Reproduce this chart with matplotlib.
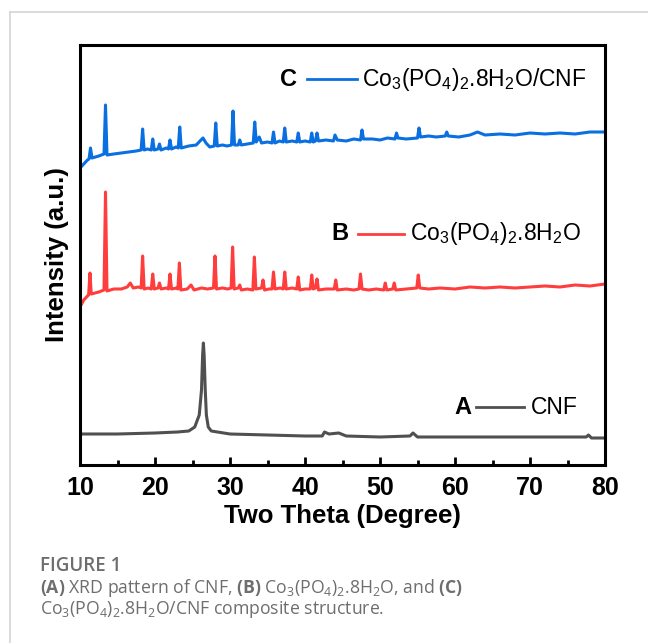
# encoding: utf-8
"""
XRD patterns of CNF, Co3(PO4)2.8H2O and the Co3(PO4)2.8H2O/CNF composite.
"""

import matplotlib
matplotlib.use('Agg')
import matplotlib.pyplot as plt
from matplotlib.lines import Line2D

plt.rcParams['font.family'] = ['Liberation Sans', 'DejaVu Sans']
plt.rcParams['mathtext.fontset'] = 'custom'
plt.rcParams['mathtext.default'] = 'regular'
plt.rcParams['mathtext.bf'] = 'Open Sans:bold'

# (A) CNF, two theta (deg) and intensity (a.u.)
cnf_theta = [10.0, 15.0, 20.0, 23.0, 24.5, 25.3, 25.9, 26.2, 26.35, 26.45, 26.55, 26.7,
             26.85, 27.1, 27.5, 30.0, 35.0, 40.0, 42.3, 42.6, 43.2, 44.5, 45.5, 50.0,
             54.0, 54.4, 55.0, 60.0, 70.0, 77.5, 77.8, 78.2, 80.0]
cnf_int = [31, 31, 32, 33, 34, 38, 50, 75, 110, 122, 110, 75,
           50, 38, 34, 31, 30, 29, 29, 33, 31, 32, 29, 28,
           29, 32, 28, 28, 28, 28, 30, 27, 27]

# (B) Co3(PO4)2.8H2O
cop_theta = [10.0, 10.5, 11.0, 11.15, 11.33, 11.5, 12.5, 13.2, 13.4, 13.6, 14.5, 15.5,
             16.3, 16.7, 17.1, 17.8, 18.15, 18.35, 18.55, 19.1, 19.5, 19.7, 19.9, 20.4,
             20.6, 20.8, 21.5, 21.8, 22.0, 22.2, 22.9, 23.05, 23.25, 23.45, 24.3, 24.8,
             25.2, 26.2, 27.0, 27.8, 28.0, 28.2, 29.0, 29.7, 30.15, 30.35, 30.55, 31.1,
             31.3, 31.5, 32.3, 33.05, 33.25, 33.45, 34.2, 34.4, 34.6, 35.2, 35.6, 35.8,
             36.0, 36.7, 37.1, 37.3, 37.5, 38.3, 38.9, 39.1, 39.3, 40.0, 40.7, 40.9,
             41.1, 41.4, 41.6, 41.8, 42.8, 43.9, 44.1, 44.3, 45.5, 46.5, 47.2, 47.4,
             47.6, 48.5, 49.5, 50.5, 50.7, 50.9, 51.7, 51.9, 52.1, 53.5, 54.9, 55.1,
             55.3, 56.5, 58.0, 60.0, 62.0, 64.0, 66.0, 68.0, 70.0, 72.0, 74.0, 76.0,
             78.0, 80.0]
cop_int = [158, 165, 169, 170, 192, 171, 173, 175, 273, 174, 176, 176,
           178, 182, 177, 178, 177, 209, 176, 177, 176, 191, 176, 177,
           182, 176, 177, 176, 191, 176, 177, 176, 202, 175, 176, 180,
           175, 177, 176, 177, 209, 176, 177, 176, 177, 218, 176, 177,
           180, 175, 176, 175, 208, 176, 177, 185, 175, 176, 176, 193,
           176, 177, 176, 193, 176, 177, 176, 188, 175, 176, 176, 190,
           176, 177, 186, 175, 176, 176, 185, 175, 176, 175, 176, 191,
           176, 175, 176, 175, 182, 175, 176, 182, 175, 176, 177, 190,
           177, 176, 177, 176, 178, 177, 178, 177, 178, 179, 178, 180,
           179, 181]

# (C) Co3(PO4)2.8H2O/CNF
comp_theta = [10.0, 10.5, 11.0, 11.2, 11.4, 11.6, 12.5, 13.2, 13.4, 13.6, 14.5, 15.5,
              16.5, 17.5, 18.15, 18.35, 18.55, 19.0, 19.5, 19.7, 19.9, 20.4, 20.6, 20.8,
              21.5, 21.8, 22.0, 22.2, 22.8, 23.1, 23.3, 23.5, 24.5, 25.5, 26.0, 26.4,
              26.8, 27.3, 27.9, 28.1, 28.3, 29.0, 29.6, 30.2, 30.4, 30.6, 31.1, 31.3,
              31.5, 32.3, 33.1, 33.3, 33.5, 33.9, 34.2, 35.0, 35.6, 35.8, 36.0, 36.6,
              37.1, 37.3, 37.5, 38.3, 38.9, 39.1, 39.3, 40.0, 40.7, 40.9, 41.1, 41.4,
              41.6, 41.8, 42.8, 43.8, 44.0, 44.3, 45.5, 46.5, 47.4, 47.6, 47.8, 49.0,
              50.0, 51.0, 52.0, 52.2, 52.4, 53.5, 55.0, 55.2, 55.4, 56.5, 57.5, 58.7,
              58.9, 59.1, 60.5, 62.0, 63.0, 64.0, 66.0, 68.0, 70.0, 72.0, 74.0, 76.0,
              78.0, 80.0]
comp_int = [297, 301, 305, 306, 317, 307, 309, 311, 360, 310, 311, 312,
            313, 314, 315, 336, 315, 316, 315, 326, 315, 316, 321, 315,
            317, 316, 325, 316, 318, 317, 338, 317, 319, 320, 324, 327,
            322, 318, 319, 342, 319, 320, 319, 320, 354, 320, 320, 325,
            320, 321, 322, 343, 323, 328, 322, 323, 322, 333, 322, 324,
            323, 337, 323, 324, 323, 332, 323, 324, 323, 332, 323, 324,
            332, 324, 325, 324, 330, 325, 324, 326, 325, 335, 326, 326,
            325, 327, 326, 332, 327, 326, 327, 337, 328, 329, 328, 329,
            333, 329, 328, 330, 333, 330, 331, 330, 332, 331, 332, 331,
            333, 333]

series = [
    ('A', 'CNF', cnf_theta, cnf_int, '#505050'),
    ('B', r'Co$_3$(PO$_4$)$_2$.8H$_2$O', cop_theta, cop_int, '#ff3d3d'),
    ('C', r'Co$_3$(PO$_4$)$_2$.8H$_2$O/CNF', comp_theta, comp_int, '#0a6fe0'),
]

# label anchors in axes fraction: letter x, line start, line end, text x, y
label_pos = {
    'A': (0.713, 0.754, 0.845, 0.859, 0.138),
    'B': (0.478, 0.530, 0.617, 0.629, 0.550),
    'C': (0.381, 0.432, 0.527, 0.537, 0.918),
}


def plot_xrd():
    """
    Plot the stacked XRD patterns with their inline labels and caption.
    """
    fig = plt.figure(figsize=(6.48, 6.43), dpi=100)
    ax = fig.add_axes([80 / 648, 1 - 465 / 643, 525 / 648, 420 / 643])

    for letter, name, theta, inten, color in series:
        ax.plot(theta, inten, '-', color=color, lw=2.2, solid_joinstyle='round')
        lx, l0, l1, tx, ty = label_pos[letter]
        ax.text(lx, ty, letter, transform=ax.transAxes, fontsize=17,
                fontweight='bold', va='center', ha='left')
        ax.add_line(Line2D([l0, l1], [ty, ty], transform=ax.transAxes,
                           color=color, lw=2))
        ax.text(tx, ty, name, transform=ax.transAxes, fontsize=16.5,
                va='center', ha='left')

    ax.set_xlim(10, 80)
    ax.set_ylim(0, 420)
    ax.set_xticks(range(10, 81, 10))
    ax.set_xticks(range(15, 80, 10), minor=True)
    ax.set_yticks([])
    ax.tick_params(axis='x', which='major', direction='in', length=6, width=2,
                   labelsize=18, pad=8)
    ax.tick_params(axis='x', which='minor', direction='in', length=3.5, width=2)
    for lab in ax.get_xticklabels():
        lab.set_fontweight('bold')
    for sp in ax.spines.values():
        sp.set_linewidth(2.2)

    ax.set_xlabel('Two Theta (Degree)', fontsize=18.5, fontweight='bold', labelpad=3)
    ax.set_ylabel('Intensity (a.u.)', fontsize=18.5, fontweight='bold', labelpad=8)

    # card border
    fig.add_artist(Line2D([9.5 / 648, 9.5 / 648], [0, 1 - 12 / 643],
                          transform=fig.transFigure, color='#d4d4d4', lw=1.2))
    fig.add_artist(Line2D([9.5 / 648, 1], [1 - 12 / 643, 1 - 12 / 643],
                          transform=fig.transFigure, color='#d4d4d4', lw=1.2))

    cap = dict(family=['Open Sans', 'DejaVu Sans'], color='#6e6e6e',
               fontsize=12.7, va='center', ha='left')
    fig.text(40 / 648, 1 - 566 / 643, 'FIGURE 1', fontweight='semibold',
             **dict(cap, fontsize=13.5))
    fig.text(40 / 648, 1 - 588 / 643,
             r'$\mathbf{(A)}$ XRD pattern of CNF, $\mathbf{(B)}$ '
             r'Co$_3$(PO$_4$)$_2$.8H$_2$O, and $\mathbf{(C)}$', **cap)
    fig.text(40 / 648, 1 - 610 / 643,
             r'Co$_3$(PO$_4$)$_2$.8H$_2$O/CNF composite structure.', **cap)

    fig.savefig('out.png', dpi=100)


plot_xrd()
